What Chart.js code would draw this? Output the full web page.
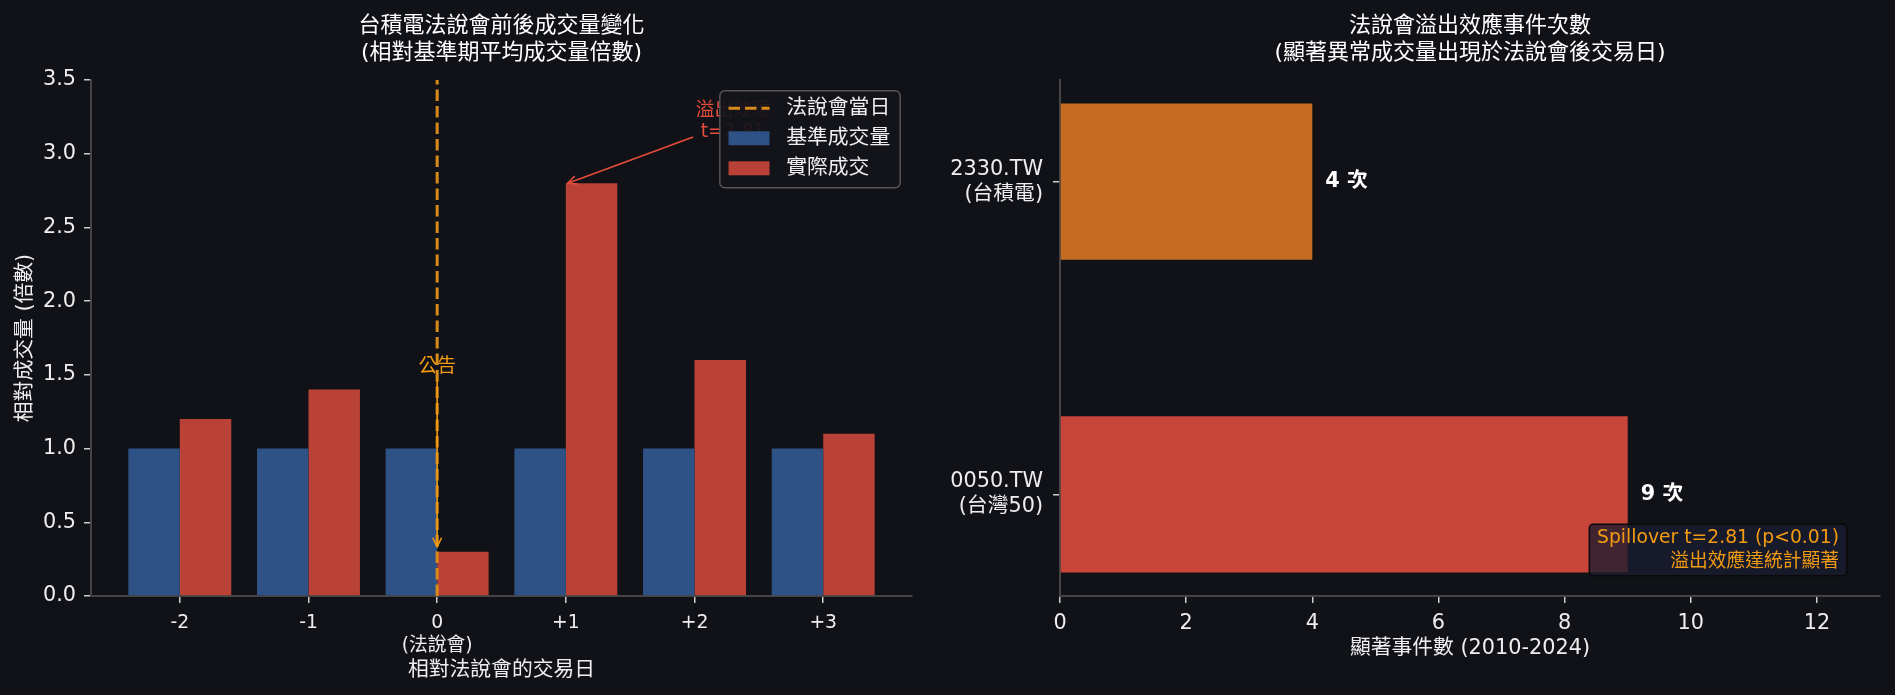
<!DOCTYPE html>
<html>
<head>
<meta charset="utf-8">
<script src="https://cdn.jsdelivr.net/npm/chart.js@4.4.1/dist/chart.umd.min.js"></script>
<style>
  html, body { margin: 0; padding: 0; background: #111217; }
  #wrap { position: relative; width: 1895px; height: 695px; }
  canvas { position: absolute; top: 0; }
  #left { left: 0; }
  #right { left: 950px; }
</style>
</head>
<body>
<div id="wrap">
  <canvas id="left" width="950" height="695"></canvas>
  <canvas id="right" width="945" height="695"></canvas>
</div>
<script>
// ===== data: left panel (volume around the call) =====
const eventDays = [-2, -1, 0, 1, 2, 3];
const dayLabels = ['-2', '-1', '0', '+1', '+2', '+3'];
const eventDayNote = '(法說會)';
const baselineVol = [1.0, 1.0, 1.0, 1.0, 1.0, 1.0];
const actualVol = [1.2, 1.4, 0.3, 2.8, 1.6, 1.1];
const leftTitle = ['台積電法說會前後成交量變化', '(相對基準期平均成交量倍數)'];
const leftNames = ['法說會當日', '基準成交量', '實際成交'];

// ===== data: right panel (spillover counts) =====
const stockCodes = ['0050.TW', '2330.TW'];
const stockNames = ['(台灣50)', '(台積電)'];
const eventCounts = [9, 4];
const countTicks = [0, 2, 4, 6, 8, 10, 12];
const countUnit = '次';
const rightTitle = ['法說會溢出效應事件次數', '(顯著異常成交量出現於法說會後交易日)'];
const noteLines = ['Spillover t=2.81 (p<0.01)', '溢出效應達統計顯著'];

const FONT = "'DejaVu Sans', 'Noto Sans CJK TC', sans-serif";
const TEXT = '#eeeeee';
const ORANGE = '#f39c12';

function drawTitle(chart, lines) {
  const { ctx, chartArea: a } = chart;
  ctx.save();
  ctx.font = `22px ${FONT}`;
  ctx.fillStyle = '#ffffff';
  ctx.textAlign = 'center';
  ctx.textBaseline = 'middle';
  const cx = (a.left + a.right) / 2;
  ctx.fillText(lines[0], cx, 26);
  ctx.fillText(lines[1], cx, 53);
  ctx.restore();
}

function arrow(ctx, x1, y1, x2, y2, color) {
  ctx.strokeStyle = color;
  ctx.lineWidth = 1.6;
  ctx.setLineDash([]);
  ctx.beginPath();
  ctx.moveTo(x1, y1);
  ctx.lineTo(x2, y2);
  ctx.stroke();
  const ang = Math.atan2(y2 - y1, x2 - x1), L = 10, W = 0.45;
  ctx.beginPath();
  ctx.moveTo(x2 - L * Math.cos(ang - W), y2 - L * Math.sin(ang - W));
  ctx.lineTo(x2, y2);
  ctx.lineTo(x2 - L * Math.cos(ang + W), y2 - L * Math.sin(ang + W));
  ctx.stroke();
}

const axisGrid = { drawOnChartArea: false, drawTicks: true, tickLength: 7, color: '#cccccc', lineWidth: 1.5, offset: false };
const axisBorder = { color: '#444444', width: 2 };

// ===== left panel =====
const leftOverlay = {
  id: 'leftOverlay',
  afterDatasetsDraw(chart) {
    const { ctx, chartArea: a, scales: { x, y } } = chart;
    ctx.save();

    // event day marker
    const ex = x.getPixelForValue(0), ey = y.getPixelForValue(1.55);
    ctx.font = `18.75px ${FONT}`;
    ctx.fillStyle = ORANGE;
    ctx.textAlign = 'center';
    ctx.textBaseline = 'middle';
    ctx.fillText('公告', ex, ey);
    arrow(ctx, ex, ey + 12, ex, y.getPixelForValue(0.3) - 5, ORANGE);

    // spillover annotation
    const sx = x.getPixelForValue(2.3), sy = y.getPixelForValue(3.215);
    ctx.fillStyle = '#e74c3c';
    ctx.fillText('溢出效應', sx, sy - 10.5);
    ctx.fillText('t=2.81', sx, sy + 10.5);
    arrow(ctx, sx - 40, sy + 15, x.getPixelForValue(1.0) + 2, y.getPixelForValue(2.8), '#e74c3c');

    // legend
    const ds = chart.data.datasets;
    ctx.font = `20.8px ${FONT}`;
    const tw = Math.max(...ds.map(d => ctx.measureText(d.label).width));
    const bw = 8.7 + 41 + 16.7 + tw + 10, bh = 97;
    const bx = a.right - 11.8 - bw, by = a.top + 10.7;
    ctx.beginPath();
    ctx.roundRect(bx, by, bw, bh, 5);
    ctx.fillStyle = 'rgba(19,20,27,0.92)';
    ctx.fill();
    ctx.strokeStyle = '#555555';
    ctx.lineWidth = 1.5;
    ctx.stroke();
    ds.forEach((d, i) => {
      const ry = by + 17.6 + i * 30;
      if (d.type === 'line') {
        ctx.strokeStyle = d.borderColor;
        ctx.lineWidth = d.borderWidth;
        ctx.setLineDash(d.borderDash);
        ctx.beginPath();
        ctx.moveTo(bx + 8.7, ry);
        ctx.lineTo(bx + 49.7, ry);
        ctx.stroke();
        ctx.setLineDash([]);
      } else {
        ctx.fillStyle = d.backgroundColor;
        ctx.fillRect(bx + 8.7, ry - 7, 41, 14);
      }
      ctx.fillStyle = TEXT;
      ctx.textAlign = 'left';
      ctx.fillText(d.label, bx + 66.4, ry);
    });
    ctx.restore();
  },
  afterDraw(chart) { drawTitle(chart, leftTitle); }
};

new Chart(document.getElementById('left'), {
  type: 'bar',
  data: {
    datasets: [
      {
        type: 'line',
        label: leftNames[0],
        data: [{ x: 0, y: 0 }, { x: 0, y: 3.5 }],
        borderColor: '#d98b1a',
        borderWidth: 3,
        borderDash: [11.5, 5],
        pointRadius: 0,
        fill: false
      },
      {
        label: leftNames[1],
        data: eventDays.map((d, i) => ({ x: d, y: baselineVol[i] })),
        backgroundColor: '#2f5286'
      },
      {
        label: leftNames[2],
        data: eventDays.map((d, i) => ({ x: d, y: actualVol[i] })),
        backgroundColor: '#b94136'
      }
    ]
  },
  options: {
    responsive: false,
    animation: false,
    layout: { padding: { top: 80, right: 38, left: 0, bottom: 0 } },
    plugins: { legend: { display: false }, tooltip: { enabled: false } },
    datasets: { bar: { categoryPercentage: 0.8, barPercentage: 1.0, borderWidth: 0 } },
    scales: {
      x: {
        type: 'linear', offset: false, min: -2.69, max: 3.69,
        afterBuildTicks: s => { s.ticks = eventDays.map(v => ({ value: v })); },
        afterFit: s => { s.height = 99; },
        ticks: {
          autoSkip: false, maxRotation: 0, padding: 9, color: TEXT,
          font: { family: FONT, size: 18.75 },
          callback: (v, i) => eventDays[i] === 0 ? [dayLabels[i], eventDayNote] : dayLabels[i]
        },
        grid: axisGrid,
        border: axisBorder,
        title: {
          display: true, text: '相對法說會的交易日', color: TEXT,
          font: { family: FONT, size: 20.8 }, padding: { top: 0, bottom: 12 }
        }
      },
      y: {
        min: 0, max: 3.5,
        afterFit: s => { s.width = 91; },
        ticks: { stepSize: 0.5, padding: 8, color: TEXT, font: { family: FONT, size: 20.8 }, callback: v => v.toFixed(1) },
        grid: axisGrid,
        border: axisBorder,
        title: {
          display: true, text: '相對成交量 (倍數)', color: TEXT,
          font: { family: FONT, size: 20.8 }, padding: { top: 13.5, bottom: 0 }
        }
      }
    }
  },
  plugins: [leftOverlay]
});

// ===== right panel =====
const rightOverlay = {
  id: 'rightOverlay',
  afterDatasetsDraw(chart) {
    const { ctx, chartArea: a } = chart;
    ctx.save();
    ctx.font = `bold 20.8px ${FONT}`;
    ctx.fillStyle = '#ffffff';
    ctx.textAlign = 'left';
    ctx.textBaseline = 'middle';
    chart.getDatasetMeta(0).data.forEach((bar, i) => {
      ctx.fillText(`${eventCounts[i]} ${countUnit}`, bar.x + 13, bar.y);
    });

    // stats note
    ctx.font = `18.75px ${FONT}`;
    const tw = Math.max(...noteLines.map(t => ctx.measureText(t).width));
    const tr = a.left + 0.95 * (a.right - a.left);
    const tb = a.bottom - 0.05 * (a.bottom - a.top);
    ctx.beginPath();
    ctx.roundRect(tr - tw - 7.7, tb - 46, tw + 15.4, 51.5, 4);
    ctx.fillStyle = 'rgba(26,28,48,0.78)';
    ctx.fill();
    ctx.strokeStyle = '#0a0a0a';
    ctx.lineWidth = 1.5;
    ctx.stroke();
    ctx.fillStyle = ORANGE;
    ctx.textAlign = 'right';
    ctx.fillText(noteLines[0], tr, tb - 32.5);
    ctx.fillText(noteLines[1], tr, tb - 8);
    ctx.restore();
  },
  afterDraw(chart) { drawTitle(chart, rightTitle); }
};

new Chart(document.getElementById('right'), {
  type: 'bar',
  data: {
    datasets: [{
      data: eventCounts.map((c, i) => ({ x: c, y: i })),
      backgroundColor: ['#c8453a', '#c46d22'],
      borderWidth: 0
    }]
  },
  options: {
    indexAxis: 'y',
    responsive: false,
    animation: false,
    layout: { padding: { top: 80, right: 15, left: 0, bottom: 0 } },
    plugins: { legend: { display: false }, tooltip: { enabled: false } },
    datasets: { bar: { categoryPercentage: 0.5, barPercentage: 1.0 } },
    scales: {
      x: {
        type: 'linear', min: 0, max: 13,
        afterBuildTicks: s => { s.ticks = countTicks.map(v => ({ value: v })); },
        afterFit: s => { s.height = 99; },
        ticks: { autoSkip: false, maxRotation: 0, padding: 8, color: TEXT, font: { family: FONT, size: 20.8 } },
        grid: axisGrid,
        border: axisBorder,
        title: {
          display: true, text: '顯著事件數 (2010-2024)', color: TEXT,
          font: { family: FONT, size: 20.8 }, padding: { top: 0, bottom: 33.5 }
        }
      },
      y: {
        type: 'linear', offset: false, min: -0.325, max: 1.325,
        afterBuildTicks: s => { s.ticks = stockCodes.map((c, i) => ({ value: i })); },
        afterFit: s => { s.width = 110; },
        ticks: {
          autoSkip: false, padding: 10, color: TEXT, font: { family: FONT, size: 20.8 },
          callback: (v, i) => [stockCodes[i], stockNames[i]]
        },
        grid: axisGrid,
        border: axisBorder
      }
    }
  },
  plugins: [rightOverlay]
});
</script>
</body>
</html>
